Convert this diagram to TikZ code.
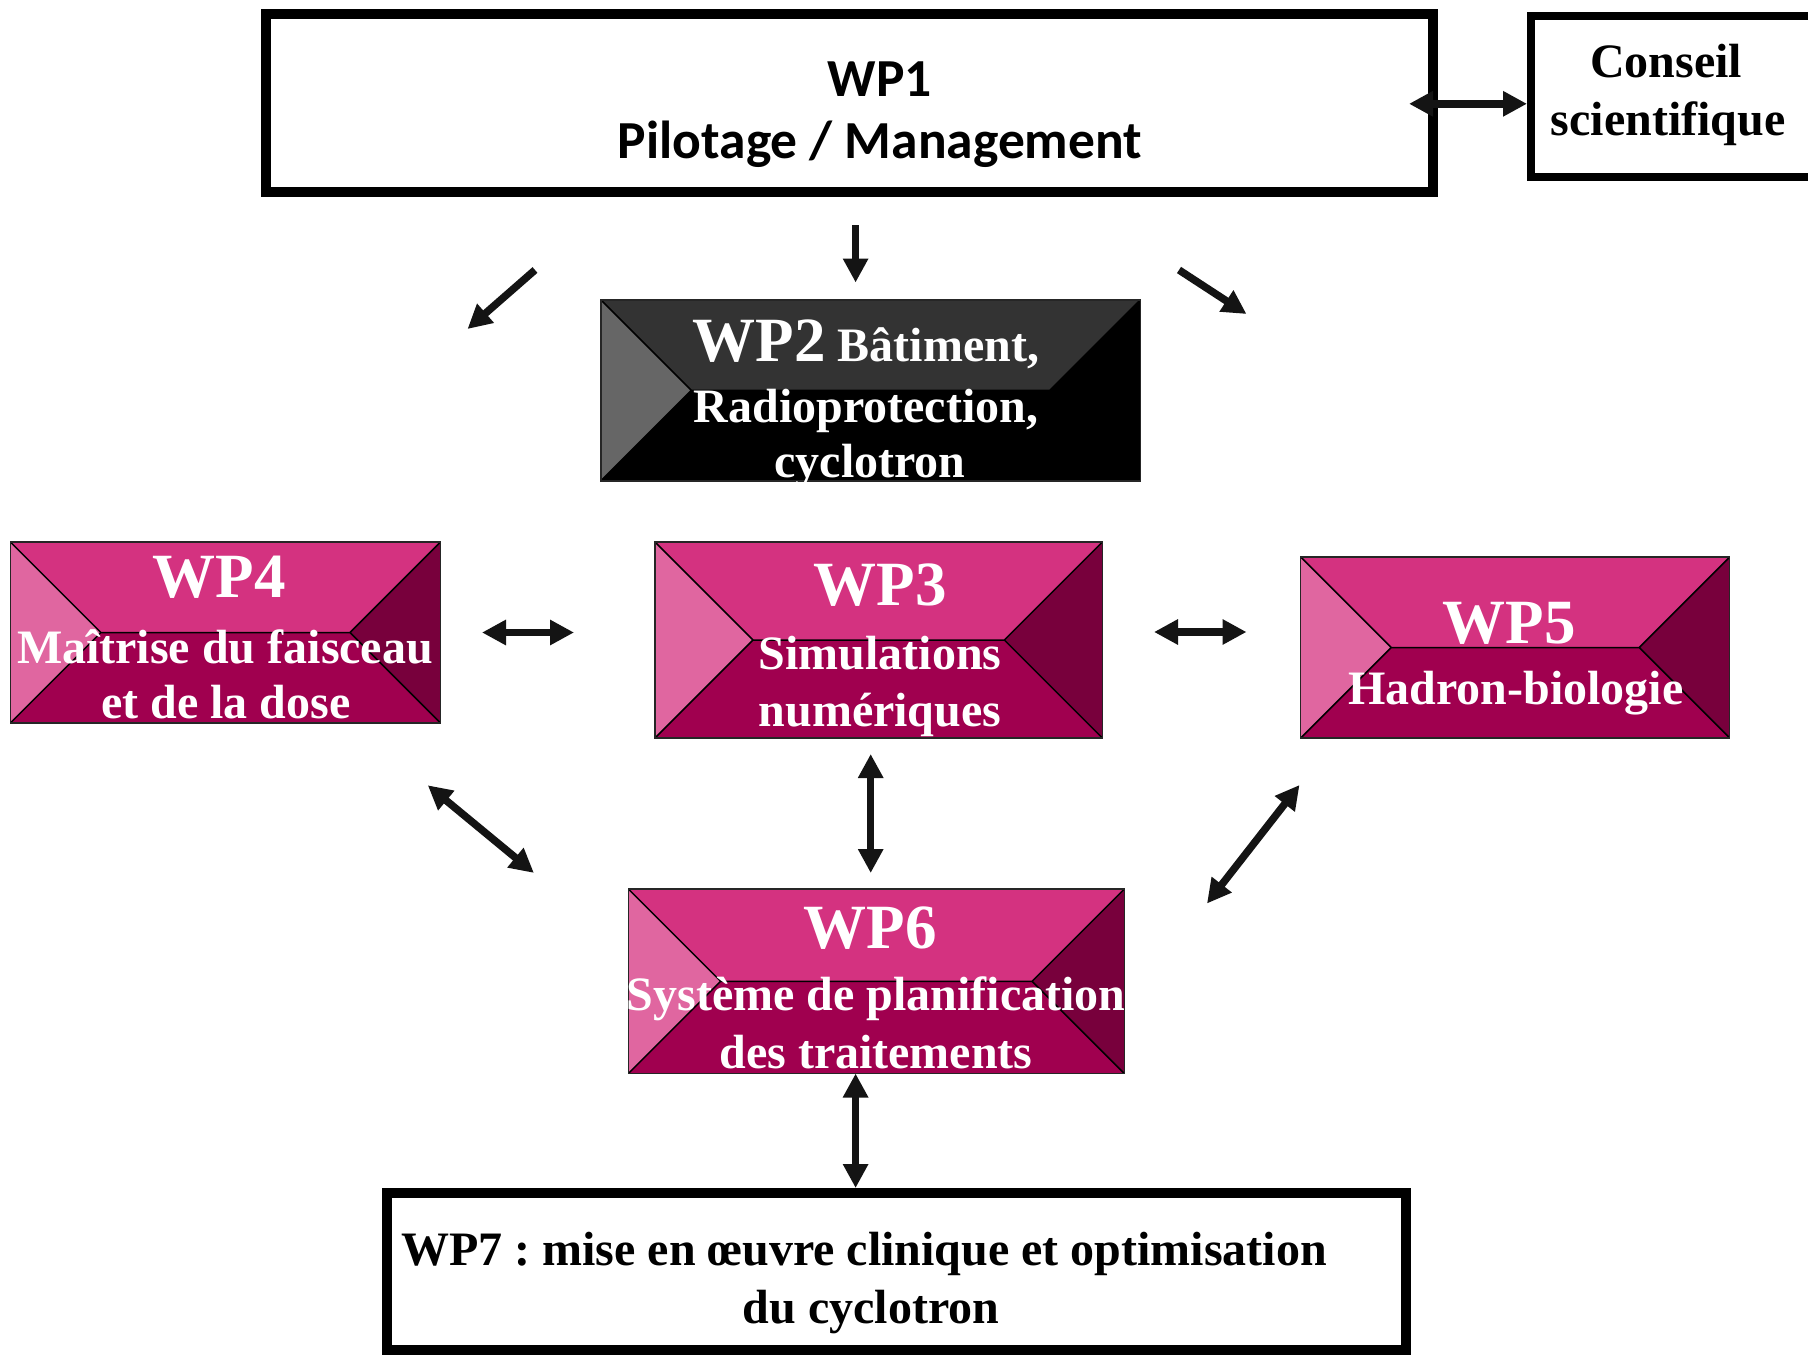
\documentclass[tikz,border=0pt]{standalone}
\usepackage{fontspec}
\setmainfont{Liberation Serif}
\newfontfamily\calfont{Carlito}
\usetikzlibrary{arrows.meta,calc}
\frenchspacing

% palette of the bevelled work-package boxes
\definecolor{pkL}{HTML}{E066A0}
\definecolor{pkT}{HTML}{D43280}
\definecolor{pkR}{HTML}{78003C}
\definecolor{pkB}{HTML}{A0004F}
\definecolor{gyL}{HTML}{666666}
\definecolor{gyT}{HTML}{333333}
\definecolor{ink}{HTML}{141414}

\begin{document}
\begin{tikzpicture}[x=1pt,y=-1pt,
  frame/.style={rectangle, draw=black, inner sep=0pt},
  % bevelled box: left, top, right and bottom facets
  bevel/.style n args={4}{rectangle, inner sep=0pt, outer sep=0pt,
    draw=black!85, line width=1.5pt,
    path picture={
      \path let \p1=(path picture bounding box.south west),
                \p2=(path picture bounding box.north east),
                \n1={0.5*(\y2-\y1)} in
        (\x1,\y1) coordinate (bvsw)
        (\x2,\y2) coordinate (bvne)
        (\x1,\y2) coordinate (bvnw)
        (\x2,\y1) coordinate (bvse)
        ({\x1+\n1*1pt},{\y1+\n1*1pt}) coordinate (bvl)
        ({\x2-\n1*1pt},{\y1+\n1*1pt}) coordinate (bvr);
      \fill[#2] (bvnw) -- (bvne) -- (bvr) -- (bvl) -- cycle;
      \fill[#1] (bvnw) -- (bvl) -- (bvsw) -- cycle;
      \fill[#3] (bvne) -- (bvr) -- (bvse) -- cycle;
      \fill[#4] (bvsw) -- (bvl) -- (bvr) -- (bvse) -- cycle;
      \draw[black, line width=1.5pt] (bvnw) -- (bvl) -- (bvsw)
        (bvne) -- (bvr) -- (bvse) (bvl) -- (bvr);
    }},
  pinkbox/.style={bevel={pkL}{pkT}{pkR}{pkB}},
  greybox/.style={bevel={gyL}{gyT}{black}{black}},
  link/.style={draw=ink, line width=7.5pt,
    arrows={Triangle[length=24pt,width=24pt]-Triangle[length=24pt,width=24pt]}},
  tolink/.style={draw=ink, line width=7.5pt,
    arrows={-Triangle[length=24pt,width=24pt]}},
  wptitle/.style={anchor=base, inner sep=0pt, text=white,
    font=\bfseries\fontsize{63}{70}\selectfont},
  wptext/.style={anchor=base, inner sep=0pt, text=white,
    font=\bfseries\fontsize{48}{55}\selectfont},
  blacktext/.style={anchor=base, inner sep=0pt, text=black,
    font=\bfseries\fontsize{48}{55}\selectfont},
  mgmttext/.style={anchor=base, inner sep=0pt, text=black,
    font=\calfont\bfseries\fontsize{53.5}{64}\selectfont}
]
\fill[white] (0,0) rectangle (1808,1355);
\useasboundingbox (0,0) rectangle (1808,1355);

% framed boxes
\node[frame, line width=10pt, minimum width=1167pt, minimum height=178pt] (wp1) at (849.5,103) {};
\node[frame, line width=8pt, minimum width=285pt, minimum height=161.5pt] (cons) at (1673.5,96.25) {};
\node[frame, line width=10pt, minimum width=1019pt, minimum height=157pt] (wp7) at (896.5,1271.5) {};

% bevelled boxes
\node[greybox, minimum width=539.6pt, minimum height=181pt] (wp2) at (870.6,390.3) {};
\node[pinkbox, minimum width=430.1pt, minimum height=181pt] (wp4) at (225.45,632.5) {};
\node[pinkbox, minimum width=447.4pt, minimum height=196pt] (wp3) at (878.7,640) {};
\node[pinkbox, minimum width=429pt, minimum height=181pt] (wp5) at (1515.2,647.5) {};
\node[pinkbox, minimum width=495.9pt, minimum height=184.5pt] (wp6) at (876.35,981.25) {};

% texts
\node[mgmttext] (wp1a) at (880,96) {WP1};
\node[mgmttext] (wp1b) at (880,158) {Pilotage / Management};
\node[blacktext] (consa) at (1666,77) {Conseil};
\node[blacktext] (consb) at (1668,135) {scientifique};

\node[wptext] (wp2a) at (866,361) {{\fontsize{63}{70}\selectfont WP2} Bâtiment,};
\node[wptext] (wp2b) at (866,422) {Radioprotection,};
\node[wptext] (wp2c) at (870,477) {cyclotron};

\node[wptitle] (wp4a) at (219,597) {WP4};
\node[wptext] (wp4b) at (225,663) {Maîtrise du faisceau};
\node[wptext] (wp4c) at (226,718) {et de la dose};

\node[wptitle] (wp3a) at (880,605) {WP3};
\node[wptext] (wp3b) at (880,669) {Simulations};
\node[wptext] (wp3c) at (880,726) {numériques};

\node[wptitle] (wp5a) at (1509,643) {WP5};
\node[wptext] (wp5b) at (1516,704.5) {Hadron-biologie};

\node[wptitle] (wp6a) at (870,948) {WP6};
\node[wptext] (wp6b) at (876,1010) {Système de planification};
\node[wptext] (wp6c) at (876,1068) {des traitements};

\node[blacktext] (wp7a) at (864,1265) {WP7 : mise en œuvre clinique et optimisation};
\node[blacktext] (wp7b) at (871,1323) {du cyclotron};

% arrow ends
\coordinate (cw1) at (1409,103.8);
\coordinate (d1a) at (855.6,225);
\coordinate (d1b) at (855.6,282.5);
\coordinate (d2a) at (535,270);
\coordinate (d2b) at (467.5,329);
\coordinate (d3a) at (1179,270);
\coordinate (d3b) at (1246.5,314);
\coordinate (h43a) at (482,632.5);
\coordinate (h43b) at (574,632.5);
\coordinate (h35a) at (1154,632);
\coordinate (h35b) at (1246.5,632);
\coordinate (g46a) at (427.8,785.3);
\coordinate (g46b) at (533.9,872.9);
\coordinate (v36a) at (870.7,754);
\coordinate (v36b) at (870.7,873);
\coordinate (g56a) at (1299.5,785);
\coordinate (g56b) at (1207,903.5);
\coordinate (x67) at (855.6,0);

% connectors
\draw[link] (cw1) -- (cons.west |- cw1);
\draw[tolink] (d1a) -- (d1b);
\draw[tolink] (d2a) -- (d2b);
\draw[tolink] (d3a) -- (d3b);
\draw[link] (h43a) -- (h43b);
\draw[link] (h35a) -- (h35b);
\draw[link] (g46a) -- (g46b);
\draw[link] (v36a) -- (v36b);
\draw[link] (g56a) -- (g56b);
\draw[link] (wp6.south -| x67) -- (wp7.north -| x67);
\end{tikzpicture}
\end{document}
